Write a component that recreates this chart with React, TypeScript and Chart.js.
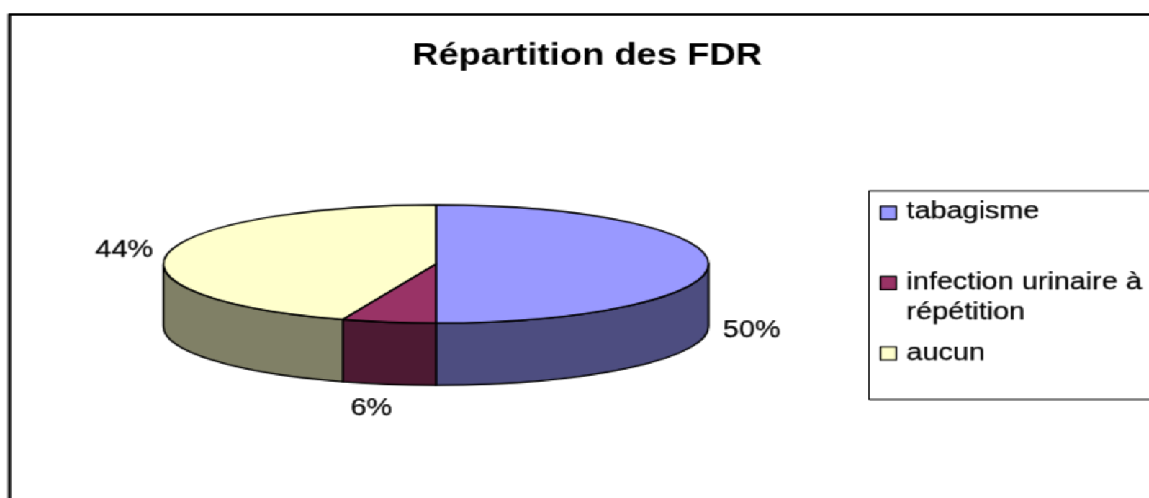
import React, { useEffect, useRef } from "react";
import { Chart, registerables } from "chart.js";

Chart.register(...registerables);

const categories = ["tabagisme", "infection urinaire à répétition", "aucun"];
const legendLines = [["tabagisme"], ["infection urinaire à", "répétition"], ["aucun"]];
const patientCounts = [9, 1, 8];
const topColors = ["#9999FF", "#993366", "#FFFFCC"];
const sideColors = ["#4D4D80", "#4D1A33", "#808066"];
const chartTitle = "Répartition des FDR";

// The picture is drawn on a smaller canvas, then stretched to the window
const CANVAS_W = 798;
const CANVAS_H = 415;
const SCALE_X = 1149 / CANVAS_W;
const SCALE_Y = 498 / CANVAS_H;

const PIE = { cx: 302.8, cy: 220, rx: 189.3, ry: 49.2, depth: 51.9 };
const LABEL_OFFSETS = [
  { x: 30, y: 55 },
  { x: -12, y: 72 },
  { x: -30, y: -3 },
];
const LEGEND = { left: 603.5, top: 159, bottom: 333, swatchX: 611.5, textX: 629.6, firstY: 176.8, step: 58.6, line: 25 };
const FONT = "Liberation Sans, Arial, sans-serif";
const OUTLINE = 1.35;

const pie3d = {
  id: "pie3d",
  beforeDatasetsDraw(chart: any) {
    const { ctx } = chart;
    const { cx, cy, rx, ry, depth } = PIE;
    const arcs = chart.getDatasetMeta(0).data;
    ctx.save();
    ctx.lineWidth = OUTLINE;
    ctx.strokeStyle = "#000";
    ctx.lineJoin = "round";
    arcs.forEach((arc: any, i: number) => {
      const a0 = Math.max(arc.startAngle, 0);
      const a1 = Math.min(arc.endAngle, Math.PI);
      if (a1 <= a0) return;
      ctx.beginPath();
      ctx.ellipse(cx, cy, rx, ry, 0, a0, a1);
      ctx.lineTo(cx + rx * Math.cos(a1), cy + ry * Math.sin(a1) + depth);
      ctx.ellipse(cx, cy + depth, rx, ry, 0, a1, a0, true);
      ctx.closePath();
      ctx.fillStyle = sideColors[i];
      ctx.fill();
      ctx.stroke();
    });
    ctx.restore();

    // Flatten the library's own arcs into the top face of the disc
    const first = arcs[0];
    ctx.save();
    ctx.translate(cx, cy);
    ctx.scale(1, ry / rx);
    ctx.translate(-first.x, -first.y);
  },
  afterDatasetsDraw(chart: any) {
    const { ctx, width, height } = chart;
    ctx.restore();
    const { cx, cy, rx, ry } = PIE;
    const arcs = chart.getDatasetMeta(0).data;
    const total = patientCounts.reduce((a, b) => a + b, 0);

    const heavyText = (t: string, x: number, y: number) => {
      ctx.lineWidth = 0.25;
      ctx.strokeStyle = "#000";
      ctx.fillStyle = "#000";
      ctx.fillText(t, x, y);
      ctx.strokeText(t, x, y);
    };

    ctx.save();
    ctx.lineWidth = OUTLINE;
    ctx.strokeStyle = "#000";
    ctx.lineJoin = "round";
    arcs.forEach((arc: any) => {
      ctx.beginPath();
      ctx.moveTo(cx, cy);
      ctx.ellipse(cx, cy, rx, ry, 0, arc.startAngle, arc.endAngle);
      ctx.closePath();
      ctx.stroke();
    });

    // Percentage labels
    ctx.font = `20px ${FONT}`;
    ctx.textAlign = "center";
    ctx.textBaseline = "middle";
    arcs.forEach((arc: any, i: number) => {
      const mid = (arc.startAngle + arc.endAngle) / 2;
      const x = cx + rx * Math.cos(mid) + LABEL_OFFSETS[i].x;
      const y = cy + ry * Math.sin(mid) + LABEL_OFFSETS[i].y;
      heavyText(`${Math.round((patientCounts[i] / total) * 100)}%`, x, y);
    });

    // Legend
    ctx.lineWidth = 1;
    ctx.strokeStyle = "#000";
    ctx.beginPath();
    ctx.moveTo(width + 5, LEGEND.top);
    ctx.lineTo(LEGEND.left, LEGEND.top);
    ctx.lineTo(LEGEND.left, LEGEND.bottom);
    ctx.lineTo(width + 5, LEGEND.bottom);
    ctx.stroke();
    ctx.textAlign = "left";
    legendLines.forEach((lines, i) => {
      const y = LEGEND.firstY + i * LEGEND.step;
      ctx.lineWidth = 1.2;
      ctx.strokeStyle = "#000";
      ctx.fillStyle = topColors[i];
      ctx.fillRect(LEGEND.swatchX, y - 5, 11, 11);
      ctx.strokeRect(LEGEND.swatchX, y - 5, 11, 11);
      lines.forEach((t, j) => heavyText(t, LEGEND.textX, y + j * LEGEND.line));
    });

    // Outer frame, open at the right and the bottom
    ctx.lineWidth = 2.2;
    ctx.strokeStyle = "#000";
    ctx.beginPath();
    ctx.moveTo(6.6, height + 5);
    ctx.lineTo(6.6, 12);
    ctx.lineTo(width + 5, 12);
    ctx.stroke();
    ctx.restore();
  },
};

export default function App() {
  const ref = useRef<HTMLCanvasElement>(null);
  useEffect(() => {
    const chart = new Chart(ref.current as HTMLCanvasElement, {
      type: "pie",
      data: {
        labels: categories,
        datasets: [
          {
            data: patientCounts,
            backgroundColor: topColors,
            borderWidth: 0,
            radius: PIE.rx,
            clip: false,
          } as any,
        ],
      },
      options: {
        responsive: false,
        animation: false,
        layout: { padding: { left: 17.4, right: 0, top: 0, bottom: 0 } },
        plugins: {
          legend: { display: false },
          tooltip: { enabled: false },
          title: {
            display: true,
            text: chartTitle,
            color: "#000",
            font: { family: FONT, size: 25.3, weight: "bold", lineHeight: 1.2 },
            padding: { top: 31.5, bottom: 0 },
          },
        },
      },
      plugins: [pie3d],
    } as any);
    return () => chart.destroy();
  }, []);

  return (
    <div
      style={{
        position: "absolute",
        left: 0,
        top: 0,
        width: CANVAS_W,
        height: CANVAS_H,
        background: "#fff",
        transformOrigin: "0 0",
        transform: `scale(${SCALE_X}, ${SCALE_Y})`,
      }}
    >
      <canvas ref={ref} width={CANVAS_W} height={CANVAS_H} style={{ display: "block" }} />
    </div>
  );
}
